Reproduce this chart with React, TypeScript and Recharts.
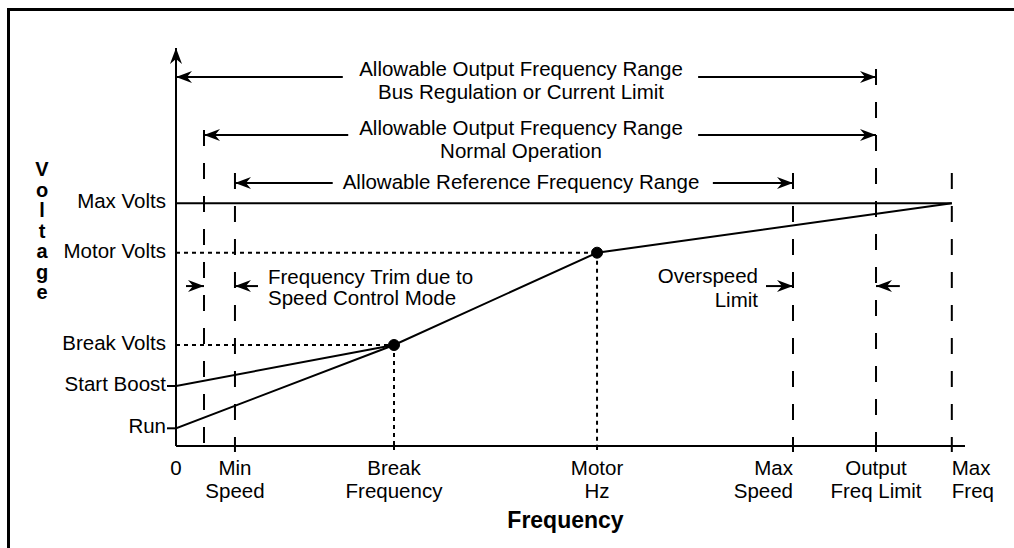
import React from "react";
import { LineChart, Line, XAxis, YAxis, ReferenceLine, ReferenceDot } from "recharts";

const FONT = '"Liberation Sans", Arial, Helvetica, sans-serif';

// frequency axis, in % of Max Freq
const freqTicks = [0, 7.6, 28.1, 54.27, 79.53, 90.23, 100];
const freqLabels = [["0"], ["Min", "Speed"], ["Break", "Frequency"], ["Motor", "Hz"], ["Max", "Speed"], ["Output", "Freq Limit"], ["Max", "Freq"]];
const trimFreq = 3.61;

// voltage axis, in % of Max Volts
const voltTicks = [7.29, 24.72, 41.62, 79.65, 100];
const voltLabels = ["Run", "Start Boost", "Break Volts", "Motor Volts", "Max Volts"];

// curves
const vhzCurve = [
  { f: 0, v: 7.29 },
  { f: 28.1, v: 41.62 },
  { f: 54.27, v: 79.65 },
  { f: 100, v: 100 },
];
const boostCurve = [
  { f: 0, v: 24.72 },
  { f: 28.1, v: 41.62 },
];
const maxVoltsLine = [
  { f: 0, v: 100 },
  { f: 100, v: 100 },
];

// range arrows at the top
const rangeLevels = [152.05, 128.2, 108.4];
const rangeEnds = [[0, 90.23], [3.61, 90.23], [7.6, 79.53]];
const rangeGaps = [[21.5, 67.3], [22.2, 67.3], [20.2, 69.2]];
const rangeTexts = [
  ["Allowable Output Frequency Range", "Bus Regulation or Current Limit"],
  ["Allowable Output Frequency Range", "Normal Operation"],
  ["Allowable Reference Frequency Range"],
];
const rangeTextX = 44.47;
const rangeTextY = [152.46, 128.2, 105.9];

// dashed guide lines
const guideFreqs = [3.61, 7.6, 79.53, 90.23, 100];
const guideTops = [130.2, 112.5, 112.5, 155.3, 112.5];

// small side arrows [tail, tip]
const sideLevel = 65.9;
const sideArrows = [[1.29, 3.61], [10.57, 7.6], [76.05, 79.53], [93.3, 90.23]];

const trimText = { f: 11.86, v: 66.76, lines: ["Frequency Trim due to", "Speed Control Mode"] };
const overText = { f: 75.02, v: 67.17, lines: ["Overspeed", "Limit"] };

const freqAnchor = ["middle", "middle", "middle", "middle", "end", "middle", "start"];
const freqMark = ["none", "solid", "dotted", "dotted", "solid", "solid", "solid"];

const Head = ({ x, y, dir }: any) => {
  const pts = `${x},${y} ${x - dir * 16},${y - 6} ${x - dir * 11},${y} ${x - dir * 16},${y + 6}`;
  return <polygon points={pts} fill="#000" />;
};

const arrowShape = (left: boolean, right: boolean) => (p: any) => (
  <g>
    <line x1={p.x1} y1={p.y1} x2={p.x2} y2={p.y2} stroke="#000" strokeWidth={2} />
    {left && <Head x={Math.min(p.x1, p.x2)} y={p.y1} dir={-1} />}
    {right && <Head x={Math.max(p.x1, p.x2)} y={p.y1} dir={1} />}
  </g>
);

const textShape = (lines: string[], anchor: string, pitch: number) => (p: any) => (
  <text x={p.cx} y={p.cy} textAnchor={anchor} fontFamily={FONT} fontSize={20.5} fill="#000">
    {lines.map((s, i) => (
      <tspan key={i} x={p.cx} dy={i === 0 ? 0 : pitch}>{s}</tspan>
    ))}
  </text>
);

const FreqTick = (props: any) => {
  const { x, y, index } = props;
  const lines = freqLabels[index] || [];
  const mark = freqMark[index];
  return (
    <g>
      {mark === "solid" && <line x1={x} x2={x} y1={y} y2={y + 6} stroke="#000" strokeWidth={2} />}
      {mark === "dotted" && <line x1={x} x2={x} y1={y} y2={y + 7} stroke="#000" strokeWidth={2} strokeDasharray="4 3" />}
      <text x={x} y={y + 29} textAnchor={freqAnchor[index]} fontFamily={FONT} fontSize={20.5} fill="#000">
        {lines.map((s, i) => (
          <tspan key={i} x={x} dy={i === 0 ? 0 : 23}>{s}</tspan>
        ))}
      </text>
    </g>
  );
};

const VoltTick = (props: any) => {
  const { x, y, index } = props;
  return (
    <g>
      {index <= 1 && <line x1={x - 9} x2={x} y1={y} y2={y} stroke="#000" strokeWidth={2} />}
      <text x={x - 10} y={y + 5} textAnchor="end" fontFamily={FONT} fontSize={20.5} fill="#000">
        {voltLabels[index]}
      </text>
    </g>
  );
};

const voltageLetters = ["V", "o", "l", "t", "a", "g", "e"];

const VoltageTitle = (p: any) => {
  const vb = p.viewBox || { x: 6, y: 37 };
  return (
    <text textAnchor="middle" fontFamily={FONT} fontWeight="bold" fontSize={20} fill="#000">
      {voltageLetters.map((c, i) => (
        <tspan key={i} x={vb.x + 26} y={vb.y + 128 + i * 20.5}>
          {c}
        </tspan>
      ))}
    </text>
  );
};

const FreqTitle = (p: any) => {
  const vb = p.viewBox || { x: 166, y: 435, width: 789, height: 100 };
  return (
    <text x={vb.x + vb.width / 2 - 5} y={vb.y + vb.height - 18} textAnchor="middle" fontFamily={FONT} fontWeight="bold" fontSize={23} fill="#000">
      Frequency
    </text>
  );
};

const App: React.FC = () => {
  return (
    <div style={{ position: "absolute", left: 7, top: 8, width: 1004, height: 537, borderTop: "3px solid #000", borderLeft: "3px solid #000", background: "#fff" }}>
      <LineChart width={1000} height={535} margin={{ top: 37, right: 45, bottom: 0, left: 6 }}>
        <XAxis
          type="number"
          dataKey="f"
          domain={[0, 101.7]}
          ticks={freqTicks}
          interval={0}
          allowDataOverflow
          height={100}
          tickSize={0}
          tickMargin={0}
          tickLine={false}
          axisLine={{ stroke: "#000", strokeWidth: 2 }}
          tick={<FreqTick />}
          label={{ content: (p: any) => <FreqTitle {...p} /> }}
        />
        <YAxis
          type="number"
          dataKey="v"
          domain={[0, 164]}
          ticks={voltTicks}
          interval={0}
          allowDataOverflow
          width={160}
          tickSize={0}
          tickMargin={0}
          tickLine={false}
          axisLine={{ stroke: "#000", strokeWidth: 2 }}
          tick={<VoltTick />}
          label={{ content: (p: any) => <VoltageTitle {...p} /> }}
        />

        {/* dashed limit guides */}
        {guideFreqs.map((f, i) => (
          <ReferenceLine
            key={"g" + i}
            segment={[{ x: f, y: guideTops[i] }, { x: f, y: 0 }]}
            stroke="#000"
            strokeWidth={2}
            strokeDasharray="16 17"
          />
        ))}

        {/* dotted break / motor guides */}
        <ReferenceLine segment={[{ x: 0, y: voltTicks[2] }, { x: freqTicks[2], y: voltTicks[2] }]} stroke="#000" strokeWidth={2} strokeDasharray="4 4" />
        <ReferenceLine segment={[{ x: freqTicks[2], y: voltTicks[2] }, { x: freqTicks[2], y: 0 }]} stroke="#000" strokeWidth={2} strokeDasharray="4 4" />
        <ReferenceLine segment={[{ x: 0, y: voltTicks[3] }, { x: freqTicks[3], y: voltTicks[3] }]} stroke="#000" strokeWidth={2} strokeDasharray="4 4" />
        <ReferenceLine segment={[{ x: freqTicks[3], y: voltTicks[3] }, { x: freqTicks[3], y: 0 }]} stroke="#000" strokeWidth={2} strokeDasharray="4 4" />

        <Line data={maxVoltsLine} dataKey="v" stroke="#000" strokeWidth={2} dot={false} activeDot={false} isAnimationActive={false} />
        <Line data={boostCurve} dataKey="v" stroke="#000" strokeWidth={2} dot={false} activeDot={false} isAnimationActive={false} />
        <Line data={vhzCurve} dataKey="v" stroke="#000" strokeWidth={2} dot={false} activeDot={false} isAnimationActive={false} />

        <ReferenceDot x={freqTicks[2]} y={voltTicks[2]} r={5.5} fill="#000" stroke="#000" />
        <ReferenceDot x={freqTicks[3]} y={voltTicks[3]} r={5.5} fill="#000" stroke="#000" />

        {/* y axis arrow head */}
        <ReferenceDot
          x={0}
          y={164}
          shape={(p: any) => (
            <polygon points={`${p.cx},${p.cy} ${p.cx - 6},${p.cy + 16} ${p.cx},${p.cy + 11} ${p.cx + 6},${p.cy + 16}`} fill="#000" />
          )}
        />

        {/* range arrows */}
        {rangeLevels.map((lv, i) => (
          <ReferenceLine
            key={"ra" + i}
            segment={[{ x: rangeEnds[i][0], y: lv }, { x: rangeGaps[i][0], y: lv }]}
            shape={arrowShape(true, false)}
          />
        ))}
        {rangeLevels.map((lv, i) => (
          <ReferenceLine
            key={"rb" + i}
            segment={[{ x: rangeGaps[i][1], y: lv }, { x: rangeEnds[i][1], y: lv }]}
            shape={arrowShape(false, true)}
          />
        ))}
        {rangeTexts.map((lines, i) => (
          <ReferenceDot key={"rt" + i} x={rangeTextX} y={rangeTextY[i]} shape={textShape(lines, "middle", 23)} />
        ))}

        {/* trim / overspeed arrows */}
        {sideArrows.map((a, i) => (
          <ReferenceLine
            key={"sa" + i}
            segment={[{ x: a[0], y: sideLevel }, { x: a[1], y: sideLevel }]}
            shape={arrowShape(a[1] < a[0], a[1] > a[0])}
          />
        ))}
        <ReferenceDot x={trimText.f} y={trimText.v} shape={textShape(trimText.lines, "start", 21.5)} />
        <ReferenceDot x={overText.f} y={overText.v} shape={textShape(overText.lines, "end", 24)} />
        <ReferenceDot x={trimFreq} y={0} r={0} fill="none" stroke="none" />
      </LineChart>
    </div>
  );
};

export default App;
